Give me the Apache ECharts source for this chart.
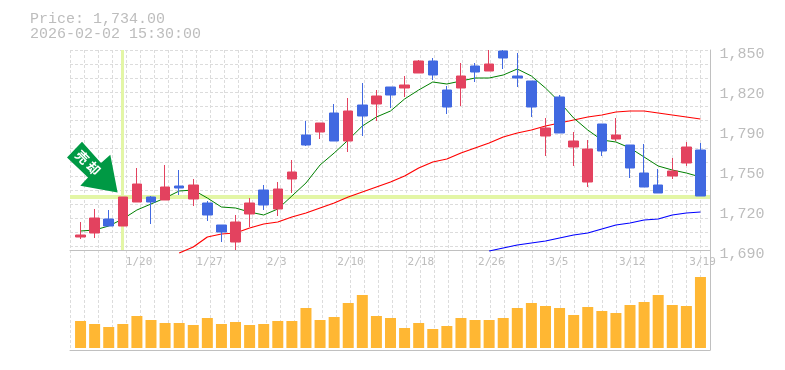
<!DOCTYPE html>
<html><head><meta charset="utf-8">
<style>html,body{margin:0;padding:0;background:#fff}#c{width:785px;height:370px}</style>
<script src="https://cdn.jsdelivr.net/npm/echarts@6/dist/echarts.min.js"></script>
</head><body><div id="c"></div>
<script>
const dates = ['1/15','1/16','1/19','1/20','1/21','1/22','1/23','1/26','1/27','1/28','1/29','1/30','2/2','2/3','2/4','2/5','2/6','2/9','2/10','2/12','2/13','2/16','2/17','2/18','2/19','2/20','2/24','2/25','2/26','2/27','3/2','3/3','3/4','3/5','3/6','3/9','3/10','3/11','3/12','3/13','3/16','3/17','3/18','3/19','3/23'];
const shownDates = ['1/20','1/27','2/3','2/10','2/18','2/26','3/5','3/12','3/19'];
const opens = [1700.4,1703.6,1714.8,1709.2,1728.4,1732.4,1730,1741.2,1730.8,1727.6,1710,1696.4,1718.8,1738,1722.8,1746.8,1782,1784.4,1799.6,1777.2,1806,1806.8,1820.4,1819.6,1831.6,1841.2,1818,1819.6,1837.2,1833.2,1849.2,1829.2,1825.2,1781.2,1812.4,1772.4,1744.4,1790.8,1778.8,1774,1751.6,1742,1749.2,1759.6,1770];
const closes = [1702,1715.6,1709.2,1732.4,1742.8,1728.4,1740.4,1739.6,1742,1718,1704.4,1712.4,1727.6,1726,1738.8,1752.4,1774,1791.6,1777.2,1801.2,1797.2,1813.2,1814,1822,1841.2,1830,1804.4,1829.2,1832.4,1838.8,1843.6,1827.6,1804.4,1787.6,1783.6,1777.2,1770.8,1769.2,1782,1755.6,1740.4,1735.6,1753.2,1772.4,1733.2];
const lows = [1698.8,1699.6,1709.2,1709.2,1728.4,1710.8,1730,1734,1725.2,1713.2,1696.4,1690,1708.4,1722,1717.2,1735.6,1773.2,1778.8,1777.2,1768.4,1781.2,1793.2,1803.6,1812.4,1831.6,1826,1798.8,1805.2,1824.4,1833.2,1834.8,1820.4,1796.4,1765.2,1783.6,1757.2,1740.4,1765.2,1777.2,1747.6,1740.4,1735.6,1746.8,1757.2,1733.2];
const highs = [1712.4,1722.8,1722,1732.4,1755.6,1733.2,1758,1754,1746.8,1729.2,1710,1718,1731.6,1742,1744.4,1762,1793.2,1791.6,1806.8,1811.6,1823.6,1818,1820.4,1829.2,1842,1843.6,1821.2,1839.6,1839.6,1850,1850,1847.6,1825.2,1795.6,1814,1784.4,1778,1790.8,1795.6,1774,1774.8,1754.8,1763.6,1776.4,1775.6];
const maShort = [1705.2,1706,1709.2,1714.8,1722,1726.8,1731.6,1737.2,1738,1731.6,1724.4,1723.6,1720.4,1718,1722.8,1733.2,1743.6,1758,1767.6,1778,1789.2,1796.4,1801.2,1810.8,1818,1824.4,1822.8,1825.2,1827.6,1827.6,1830,1834.8,1829.2,1819.6,1808.4,1795.6,1786,1778,1776.4,1771.6,1764.4,1757.2,1754,1751.6,1748.4];
const maMid = [null,null,null,null,null,null,null,1687.6,1692.4,1700.4,1702.8,1703.6,1707.6,1710.8,1712.4,1716.4,1719.6,1723.6,1727.6,1732.4,1736.4,1740.4,1744.4,1749.2,1755.6,1760.4,1762.8,1767.6,1771.6,1775.6,1780.4,1783.6,1786,1789.2,1791.6,1794,1796.4,1798,1800.4,1801.2,1801.2,1799.6,1798,1796.4,1794.8];
const maLong = [null,null,null,null,null,null,null,null,null,null,null,null,null,null,null,null,null,null,null,null,null,null,null,null,null,null,null,null,null,1689.2,1691.6,1694,1695.6,1697.2,1699.6,1702,1703.6,1706.8,1710,1711.6,1714,1714.8,1718,1719.6,1720.4];
const volumes = [27,24,21,24,32,28,25,25,23,30,24,26,23,24,27,27,40,28,31,45,53,32,30,20,25,19,22,30,28,28,30,40,45,42,40,33,41,37,35,43,46,53,43,42,71];
const priceTicks = [1690,1722,1754,1786,1818,1850];
const priceLabels = ['1,690','1,720','1,750','1,790','1,820','1,850'];
const crossDate = '1/20';
const crossPrice = 1732.6;
const signalText = '売 却';
const titleLines = ['Price: 1,734.00','2026-02-02 15:30:00'];

const GRID='#dcdcdc', AXIS='#c0c0c0', TXT='#bdbdbd', CROSS='#e3f6a6';
const mono='"Liberation Mono", monospace';
const dash={color:GRID,width:1,type:[3,2]};
const chart=echarts.init(document.getElementById('c'),null,{renderer:'canvas'});
const hidden={show:false};
chart.setOption({
  animation:false,
  backgroundColor:'#fff',
  title:{text:titleLines.join('\n'),left:30,top:12,padding:0,
    textStyle:{fontFamily:mono,fontSize:15,fontWeight:'normal',color:TXT,lineHeight:15}},
  grid:[
    {left:73.5,top:50,width:634,height:200},
    {left:73.5,top:250,width:634,height:98},
    {left:70,top:50,width:640,height:200},
    {left:70,top:250,width:640,height:100}
  ],
  xAxis:[
    {type:'category',gridIndex:0,data:dates,axisLine:hidden,axisTick:hidden,splitLine:hidden,
      axisLabel:{show:true,interval:(i,v)=>shownDates.includes(v),align:'left',padding:[0,0,0,3],margin:7,
        fontFamily:'"DejaVu Sans Mono", monospace',fontSize:11,color:TXT,hideOverlap:false}},
    {type:'category',gridIndex:1,data:dates,axisLine:hidden,axisTick:hidden,axisLabel:hidden,splitLine:hidden},
    {type:'value',gridIndex:2,min:0,max:640,interval:14,axisLine:{show:true,onZero:false,lineStyle:{color:AXIS,width:1}},axisTick:hidden,axisLabel:hidden,splitLine:{show:true,lineStyle:dash}},
    {type:'value',gridIndex:3,min:0,max:640,interval:14,axisLine:{show:true,onZero:false,lineStyle:{color:AXIS,width:1}},axisTick:hidden,axisLabel:hidden,splitLine:{show:true,lineStyle:dash}}
  ],
  yAxis:[
    {type:'value',gridIndex:0,position:'right',min:1690,max:1850,axisLine:hidden,axisTick:hidden,splitLine:hidden,
      axisLabel:{show:true,customValues:priceTicks,margin:12,verticalAlign:'top',lineHeight:8,fontFamily:mono,fontSize:15,color:TXT,
        formatter:v=>priceLabels[priceTicks.indexOf(v)]}},
    {type:'value',gridIndex:1,min:0,max:98,axisLine:hidden,axisTick:hidden,axisLabel:hidden,splitLine:hidden},
    {type:'value',gridIndex:2,position:'right',inverse:true,min:0,max:200,interval:14,axisLine:{show:true,onZero:false,lineStyle:{color:AXIS,width:1}},axisTick:hidden,axisLabel:hidden,splitLine:{show:true,lineStyle:dash}},
    {type:'value',gridIndex:3,position:'right',min:0,max:100,axisLine:{show:true,onZero:false,lineStyle:{color:AXIS,width:1}},axisTick:hidden,axisLabel:hidden,splitLine:hidden},
    {type:'value',gridIndex:2,show:false,min:1690,max:1850,splitLine:hidden}
  ],
  series:[
    {type:'line',xAxisIndex:2,yAxisIndex:4,data:[[0,1800]],symbol:'none',silent:true,z:1,lineStyle:{width:0},
      markLine:{silent:true,symbol:'none',z:1,animation:false,label:hidden,
        data:[
          {yAxis:crossPrice,lineStyle:{color:CROSS,width:4,type:'solid'}},
          {xAxis:52.2,lineStyle:{color:CROSS,width:3,type:'solid'}}
        ]}},
    {type:'line',xAxisIndex:0,yAxisIndex:0,data:maLong,symbol:'none',clip:false,z:3,lineStyle:{color:'#0000ff',width:1.2},silent:true},
    {type:'line',xAxisIndex:0,yAxisIndex:0,data:maMid,symbol:'none',clip:false,z:3,lineStyle:{color:'#ff0000',width:1.2},silent:true},
    {type:'line',xAxisIndex:0,yAxisIndex:0,data:maShort,symbol:'none',clip:false,z:3,lineStyle:{color:'#008000',width:1},silent:true},
    {type:'candlestick',xAxisIndex:0,yAxisIndex:0,z:4,clip:false,barWidth:10,silent:true,
      data:dates.map((d,i)=>[opens[i],closes[i],lows[i],highs[i]]),
      itemStyle:{color:'#e3425f',color0:'#4169e1',borderColor:'#e3425f',borderColor0:'#4169e1',borderWidth:1},
      markPoint:{silent:true,z:6,animation:false,data:[{
        coord:[crossDate,crossPrice],
        symbol:'path://M15 0L0 15.7L21 35.7L13.3 44L50.6 50.7L43.3 13L34 21.3Z',
        symbolSize:[50.6,50.7],symbolOffset:[-30.5,-29.7],
        itemStyle:{color:'#009944'},
        label:{show:true,position:'inside',offset:[-6,0],formatter:signalText,rotate:-45,color:'#fff',fontWeight:'bold',fontSize:13,
          fontFamily:'"Noto Sans CJK JP"'}
      }]}},
    {type:'bar',xAxisIndex:1,yAxisIndex:1,data:volumes,barWidth:11,itemStyle:{color:'#ffb733'},silent:true,z:3}
  ]
});
</script></body></html>
